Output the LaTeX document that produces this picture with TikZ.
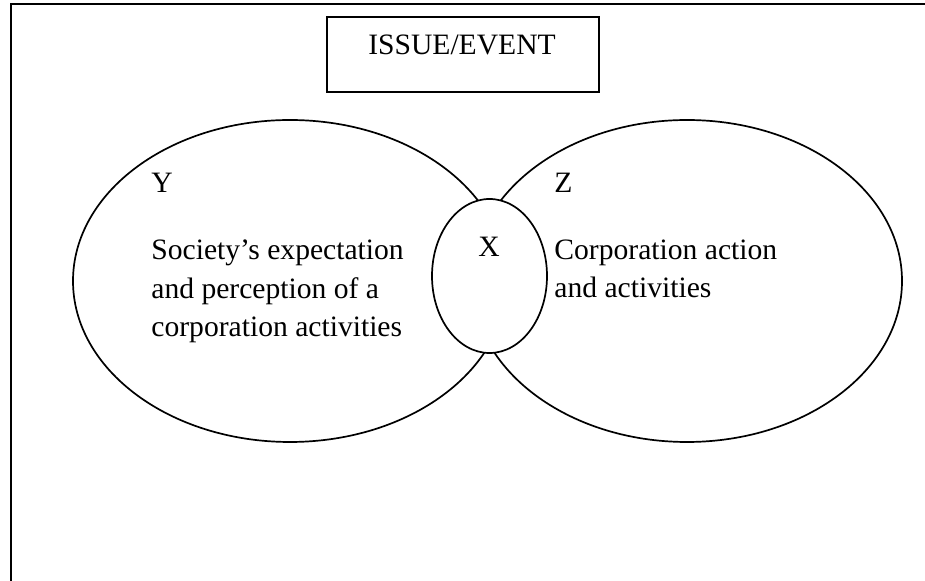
\documentclass[tikz,border=0pt]{standalone}
\usepackage{fontspec}
\setmainfont{Liberation Serif}
\usetikzlibrary{shapes.geometric}
\tikzset{
  set/.style={draw,ellipse,line width=0.85pt,inner sep=0pt},
  txt/.style={font=\fontsize{14.8}{19.25}\selectfont,inner sep=0pt,align=left},
}
\begin{document}
\begin{tikzpicture}[x=0.5pt,y=-0.5pt]
  \useasboundingbox (0,0) rectangle (925,581);
  % frame, only top and left edges show
  \coordinate (fb) at (11,581);\coordinate (fc) at (11,4);\coordinate (fr) at (925,4);
  \draw[line width=1.3pt] (fb) -- (fc) -- (fr);
  \node[draw,line width=0.9pt,minimum width=136pt,minimum height=37.5pt] (issue) at (463,54.5) {};
  \node[txt,anchor=base] (issuetxt) at (462,55) {ISSUE/EVENT};
  % the two sets and their overlap
  \node[set,minimum width=217pt,minimum height=161pt] (y) at (290,281) {};
  \node[set,minimum width=215pt,minimum height=161pt] (z) at (687,281) {};
  \node[set,fill=white,minimum width=57.5pt,minimum height=77pt] (x) at (489.5,276) {};
  % multi-line texts sit on their last baseline
  \node[txt,anchor=base west] (ylbl) at (151,193) {Y};
  \node[txt,anchor=base west] (ytxt) at (151,337) {Society’s expectation\\and perception of a\\corporation activities};
  \node[txt,anchor=base west] (zlbl) at (554,193) {Z};
  \node[txt,anchor=base west] (ztxt) at (554,298) {Corporation action\\and activities};
  \node[txt,anchor=base] (xlbl) at (489,257) {X};
\end{tikzpicture}
\end{document}
